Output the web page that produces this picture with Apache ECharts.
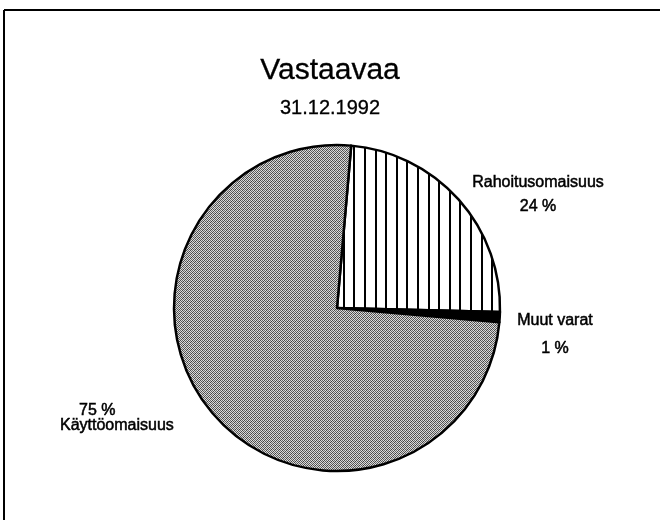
<!DOCTYPE html>
<html>
<head>
<meta charset="utf-8">
<script src="https://cdn.jsdelivr.net/npm/echarts@6/dist/echarts.min.js"></script>
<style>
  html, body { margin: 0; padding: 0; background: #fff; }
  #chart { width: 660px; height: 520px; }
</style>
</head>
<body>
<div id="chart"></div>
<script>
// ---- data ----
var titleText = 'Vastaavaa';
var subtitleText = '31.12.1992';
var categories = ['Rahoitusomaisuus', 'Muut varat', 'Käyttöomaisuus'];
var values = [24, 1, 75];

// ---- patterns ----
function hatchPattern() {
  var c = document.createElement('canvas');
  c.width = 53; c.height = 4;
  var g = c.getContext('2d');
  g.fillStyle = '#ffffff'; g.fillRect(0, 0, 53, 4);
  g.fillStyle = '#000000';
  [4.6, 15.2, 25.8, 36.4, 47].forEach(function (p) {
    g.fillRect(Math.round(p - 1), 0, 2, 4);
  });
  return { image: c, repeat: 'repeat' };
}
function grayPattern() {
  var c = document.createElement('canvas');
  c.width = 4; c.height = 4;
  var g = c.getContext('2d');
  var cols = [
    ['#4a4a4a', '#d8d8d8', '#6a6a6a', '#e0e0e0'],
    ['#dcdcdc', '#5a5a5a', '#cccccc', '#404040'],
    ['#707070', '#e2e2e2', '#484848', '#d2d2d2'],
    ['#d4d4d4', '#505050', '#dedede', '#646464']
  ];
  for (var y = 0; y < 4; y++) for (var x = 0; x < 4; x++) {
    g.fillStyle = cols[y][x]; g.fillRect(x, y, 1, 1);
  }
  return { image: c, repeat: 'repeat' };
}

var fills = [hatchPattern(), '#000000', grayPattern()];
var labelPos = [
  { x: 538, y: 195, align: 'center', fmt: function (p) { return '{n|' + p.name + '}\n{v|' + p.value + ' %}'; }, lh: 24 },
  { x: 555, y: 335, align: 'center', fmt: function (p) { return '{n|' + p.name + '}\n{v|' + p.value + ' %}'; }, lh: 28 },
  { x: 60, y: 418, align: 'left', fmt: function (p) { return '{p|' + p.value + ' %}\n{n|' + p.name + '}'; }, lh: 15 }
];

var data = categories.map(function (name, i) {
  var lh = labelPos[i].lh;
  return {
    name: name,
    value: values[i],
    itemStyle: { color: fills[i] },
    label: {
      rich: {
        n: { lineHeight: lh },
        v: { lineHeight: lh },
        p: { lineHeight: lh, padding: [0, 0, 0, 19] }
      }
    }
  };
});

var chart = echarts.init(document.getElementById('chart'), null, { renderer: 'canvas' });
chart.setOption({
  backgroundColor: '#ffffff',
  animation: false,
  textStyle: { fontFamily: 'Liberation Sans' },
  title: {
    text: titleText,
    subtext: subtitleText,
    left: 'center',
    top: 51,
    itemGap: 12,
    textStyle: { fontFamily: 'Liberation Sans', fontSize: 30, fontWeight: 'normal', color: '#000', textBorderColor: '#000', textBorderWidth: 0.3 },
    subtextStyle: { fontFamily: 'Liberation Sans', fontSize: 20, color: '#000', textBorderColor: '#000', textBorderWidth: 0.3 }
  },
  graphic: [
    { type: 'line', shape: { x1: 4, y1: 10, x2: 660, y2: 10 }, style: { stroke: '#000', lineWidth: 2 } },
    { type: 'line', shape: { x1: 4, y1: 10, x2: 4, y2: 520 }, style: { stroke: '#000', lineWidth: 2 } }
  ],
  series: [{
    type: 'pie',
    center: [337, 308],
    radius: 163,
    startAngle: 85,
    clockwise: true,
    data: data,
    itemStyle: { borderColor: '#000', borderWidth: 2.5 },
    emphasis: { disabled: true },
    label: {
      show: true,
      position: 'outside',
      fontFamily: 'Liberation Sans',
      fontSize: 16,
      color: '#000',
      textBorderColor: '#000',
      textBorderWidth: 0.5,
      formatter: function (p) { return labelPos[p.dataIndex].fmt(p); }
    },
    labelLine: { show: false },
    labelLayout: function (params) {
      var lp = labelPos[params.dataIndex];
      return { x: lp.x, y: lp.y, align: lp.align, verticalAlign: 'middle' };
    }
  }]
});
</script>
</body>
</html>
